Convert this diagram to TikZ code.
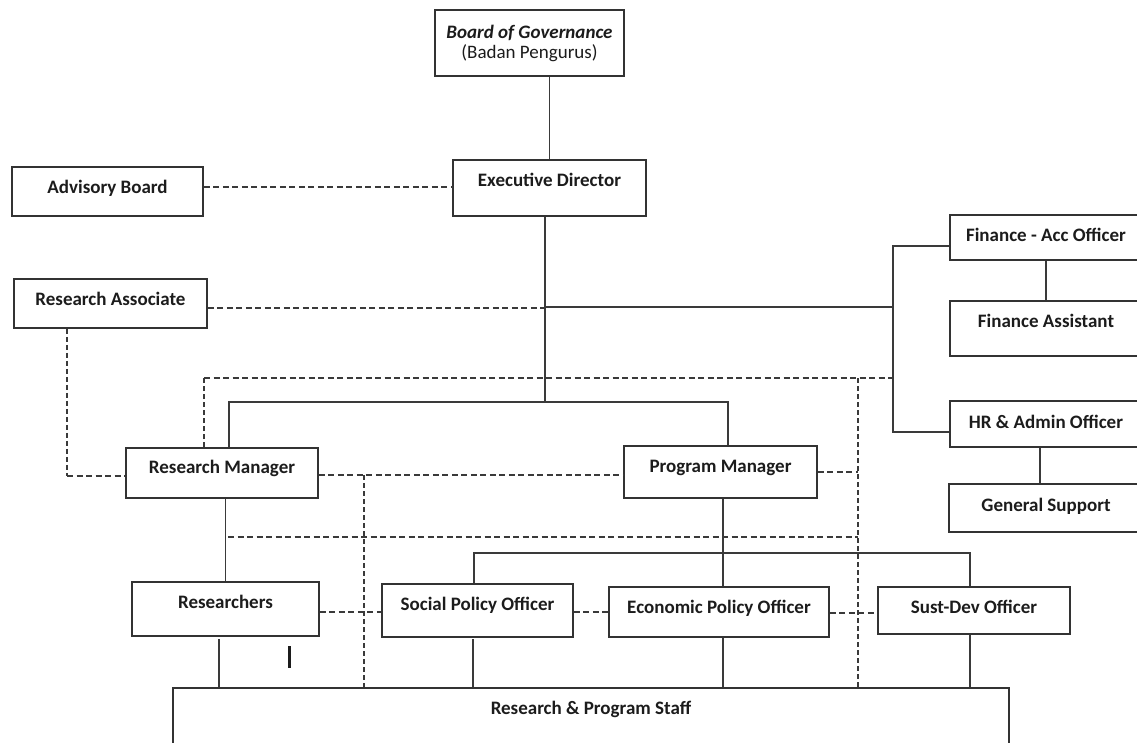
\documentclass[tikz,border=0pt]{standalone}
\usepackage{fontspec}
\setmainfont{Carlito}
\usetikzlibrary{calc}
\definecolor{boxc}{HTML}{333333}
\definecolor{linec}{HTML}{3A3A3A}
\definecolor{txtc}{HTML}{1C1C1C}
\tikzset{
  orgbox/.style={draw=boxc, line width=1.8pt, inner xsep=0pt, inner ysep=0pt, anchor=base,
    text=txtc, font=\fontsize{19}{20}\selectfont\bfseries},
  conn/.style={draw=linec, line width=1.4pt},
  dsh/.style={draw=linec, line width=1.5pt, dash pattern=on 6pt off 3.5pt},
  vdsh/.style={draw=linec, line width=1.4pt, dash pattern=on 5pt off 3pt},
}
\begin{document}
\begin{tikzpicture}[x=1pt,y=-1pt]
\useasboundingbox (0,0) rectangle (1137,742);
\clip (0,0) rectangle (1137,742);
\fill[white] (0,0) rectangle (1137,742);

% boxes
\node[orgbox, anchor=center, minimum width=189pt, minimum height=66pt, align=center] (bog) at (529.5,43)
  {{\itshape Board of Governance}\\{\mdseries (Badan Pengurus)}};
\node[orgbox, minimum width=191pt, text height=26pt, text depth=23pt] (ab) at (107.5,193) {Advisory Board};
\node[orgbox, minimum width=193pt, text height=26pt, text depth=30pt] (ed) at (549.5,186) {Executive Director};
\node[orgbox, minimum width=193pt, text height=26pt, text depth=23pt] (ra) at (110.5,305) {Research Associate};
\node[orgbox, minimum width=192pt, text height=25pt, text depth=25pt] (rm) at (222,473) {Research Manager};
\node[orgbox, minimum width=193pt, text height=26pt, text depth=26pt] (pm) at (720.5,472) {Program Manager};
\node[orgbox, minimum width=192pt, text height=26pt, text depth=19pt] (fao) at (1046,241) {Finance - Acc Officer};
\node[orgbox, minimum width=192pt, text height=26pt, text depth=29pt] (fas) at (1046,327) {Finance Assistant};
\node[orgbox, minimum width=192pt, text height=27pt, text depth=19pt] (hr) at (1046,428) {HR \& Admin Officer};
\node[orgbox, minimum width=194pt, text height=27pt, text depth=21pt] (gs) at (1046,511) {General Support};
\node[orgbox, minimum width=187pt, text height=26pt, text depth=28pt] (res) at (225.5,608) {Researchers};
\node[orgbox, minimum width=191pt, text height=26pt, text depth=27pt] (spo) at (477.5,610) {Social Policy Officer};
\node[orgbox, minimum width=220pt, text height=26pt, text depth=24pt] (epo) at (719,613) {Economic Policy Officer};
\node[orgbox, minimum width=192pt, text height=26pt, text depth=21pt] (sdo) at (974,613) {Sust-Dev Officer};
\node[orgbox, minimum width=836pt, text height=26pt, text depth=50pt] (staff) at (591,714) {Research \& Program Staff};

% junction coordinates
\coordinate (jtr) at (545,402);
\coordinate (jfin) at (893,307);
\coordinate (jf1) at (893,246);
\coordinate (jf2) at (893,432);
\coordinate (xhr) at (1040,447);
\coordinate (jab) at (453,187);
\coordinate (jra) at (545,308);
\coordinate (jra2) at (67,476);
\coordinate (jd1) at (204,378);
\coordinate (jd2) at (893,378);
\coordinate (jd3) at (858,378);
\coordinate (jbl) at (229,402);
\coordinate (jbr) at (728,402);
\coordinate (jrp) at (364,475);
\coordinate (jpm) at (858,472);
\coordinate (jdl) at (228,537);
\coordinate (jdr) at (858,537);
\coordinate (xpm) at (723,498);
\coordinate (jol) at (474,553);
\coordinate (jor) at (970,553);
\coordinate (xres) at (219,639);
\coordinate (xspo) at (473,639);
\coordinate (ysp) at (0,612);
\coordinate (yes) at (0,613);

% solid connectors
\draw[conn] (bog.south -| ed.north) -- (ed.north);
\draw[conn] (ed.south -| jtr) -- (jtr);
\draw[conn] (jtr |- jfin) -- (jfin);
\draw[conn] (fao.west |- jf1) -- (jf1) -- (jf2) -- (hr.west |- jf2);
\draw[conn] (fao.south) -- (fas.north);
\draw[conn] (hr.south -| xhr) -- (gs.north -| xhr);
\draw[conn] (rm.north -| jbl) -- (jbl) -- (jbr) -- (pm.north -| jbr);
\draw[conn] (rm.south -| res.north) -- (res.north);
\draw[conn] (pm.south -| xpm) -- (epo.north -| xpm);
\draw[conn] (spo.north -| jol) -- (jol) -- (jor) -- (sdo.north -| jor);
\draw[conn] (xres) -- (staff.north -| xres);
\draw[conn] (xspo) -- (staff.north -| xspo);
\draw[conn] (epo.south -| xpm) -- (staff.north -| xpm);
\draw[conn] (sdo.south -| jor) -- (staff.north -| jor);

% dashed connectors
\draw[dsh] (ab.east |- jab) -- (jab);
\draw[dsh] (ra.east |- jra) -- (jra);
\draw[vdsh] (ra.south -| jra2) -- (jra2);
\draw[dsh] (jra2) -- (rm.west |- jra2);
\draw[vdsh] (rm.north -| jd1) -- (jd1);
\draw[dsh] (jd1) -- (jd2);
\draw[vdsh] (jd3) -- (staff.north -| jd3);
\draw[dsh] (rm.east |- jrp) -- (pm.west |- jrp);
\draw[vdsh] (jrp) -- (staff.north -| jrp);
\draw[dsh] (pm.east |- jpm) -- (jpm);
\draw[dsh] (jdl) -- (jdr);
\draw[dsh] (res.east |- ysp) -- (spo.west |- ysp);
\draw[dsh] (spo.east |- ysp) -- (epo.west |- ysp);
\draw[dsh] (epo.east |- yes) -- (sdo.west |- yes);

% stray mark
\draw[txtc, line width=3pt] (289,646) -- (289,668);
\end{tikzpicture}
\end{document}
